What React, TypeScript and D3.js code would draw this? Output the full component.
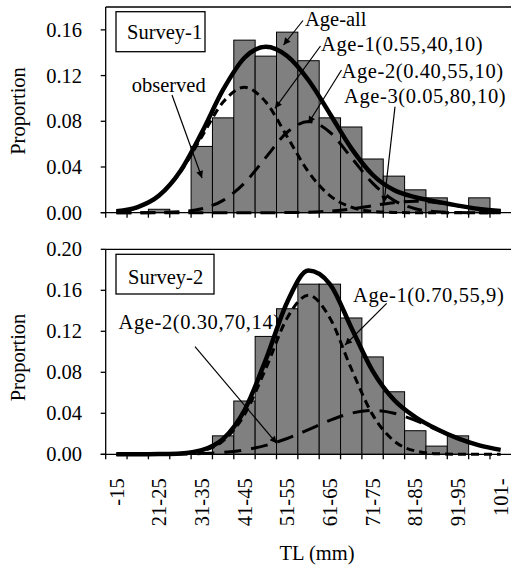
import React, { useEffect, useRef } from 'react';
import * as d3 from 'd3';

// length classes (5 mm bins)
const categories = [
  "-15", "16-20", "21-25", "26-30", "31-35", "36-40", "41-45", "46-50", "51-55", "56-60",
  "61-65", "66-70", "71-75", "76-80", "81-85", "86-90", "91-95", "96-100", "101-"
];

const yTicksSurvey1 = [0, 0.04, 0.08, 0.12, 0.16];
const yTicksSurvey2 = [0, 0.04, 0.08, 0.12, 0.16, 0.20];

// observed proportions
const survey1Observed = [0, 0, 0.003, 0, 0.058, 0.083, 0.151, 0.137, 0.158, 0.133, 0.083, 0.075, 0.047, 0.032, 0.020, 0.013, 0, 0.013, 0];
const survey2Observed = [0, 0, 0, 0, 0, 0.018, 0.052, 0.115, 0.142, 0.166, 0.166, 0.133, 0.095, 0.061, 0.023, 0.008, 0.018, 0, 0];

// fitted age groups, read at each class
const survey1Age1 = [0.0012, 0.0048, 0.0149, 0.0356, 0.0665, 0.0968, 0.1097, 0.0968, 0.0665, 0.0356, 0.0149, 0.0048, 0.0012, 0.0002, 0, 0, 0, 0, 0];
const survey1Age2 = [0, 0, 0.0002, 0.0009, 0.0035, 0.0108, 0.0259, 0.0484, 0.0704, 0.0798, 0.0704, 0.0484, 0.0259, 0.0108, 0.0035, 0.0009, 0.0002, 0, 0];
const survey1Age3 = [0, 0, 0, 0, 0, 0, 0, 0, 0.0001, 0.0004, 0.0014, 0.0032, 0.0061, 0.0088, 0.0100, 0.0088, 0.0061, 0.0032, 0.0014];
const survey1All = [0.0012, 0.0049, 0.0150, 0.0365, 0.0701, 0.1076, 0.1356, 0.1452, 0.1371, 0.1159, 0.0866, 0.0565, 0.0332, 0.0198, 0.0135, 0.0097, 0.0062, 0.0033, 0.0014];

const survey2Age1 = [0, 0, 0.0001, 0.0006, 0.0033, 0.0131, 0.0387, 0.0837, 0.1330, 0.1552, 0.1330, 0.0837, 0.0387, 0.0131, 0.0033, 0.0006, 0.0001, 0, 0];
const survey2Age2 = [0, 0, 0.0001, 0.0002, 0.0007, 0.0019, 0.0043, 0.0087, 0.0154, 0.0241, 0.0331, 0.0401, 0.0427, 0.0401, 0.0331, 0.0241, 0.0154, 0.0087, 0.0043];
const survey2All = [0, 0, 0.0002, 0.0008, 0.0040, 0.0150, 0.0430, 0.0924, 0.1484, 0.1792, 0.1661, 0.1238, 0.0814, 0.0532, 0.0364, 0.0247, 0.0155, 0.0087, 0.0043];

const FONT = '"Liberation Serif", "Times New Roman", serif';
const W = 511;
const H = 567;
const X0 = 105.7;
const X1 = 511.35;

interface Note { text: string; tx: number; ty: number; ax: number; ay: number; bx: number; by: number; }

interface Panel {
  title: string;
  box: [number, number, number, number];
  titleX: number;
  titleY: number;
  top: number;
  base: number;
  yMax: number;
  ticks: number[];
  observed: number[];
  parts: { values: number[]; dash: string }[];
  total: number[];
  notes: Note[];
  labelY: number;
  showX: boolean;
}

const panels: Panel[] = [
  {
    title: "Survey-1", box: [116, 11.7, 89, 40], titleX: 127, titleY: 38.7,
    top: 7, base: 212.7, yMax: 0.18, ticks: yTicksSurvey1,
    observed: survey1Observed,
    parts: [
      { values: survey1Age1, dash: "8,5" },
      { values: survey1Age2, dash: "15,9" },
      { values: survey1Age3, dash: "15,9" },
    ],
    total: survey1All,
    notes: [
      { text: "observed", tx: 131.7, ty: 91.5, ax: 172, ay: 95, bx: 202, by: 178 },
      { text: "Age-all", tx: 305, ty: 25.5, ax: 303, ay: 20.5, bx: 283.5, by: 45 },
      { text: "Age-1(0.55,40,10)", tx: 321, ty: 51, ax: 320.5, ay: 46, bx: 275, by: 108.3 },
      { text: "Age-2(0.40,55,10)", tx: 341.5, ty: 78.3, ax: 341.5, ay: 70, bx: 308.3, by: 123.3 },
      { text: "Age-3(0.05,80,10)", tx: 344, ty: 103, ax: 395, ay: 106.7, bx: 384, by: 203 },
    ],
    labelY: 111, showX: false,
  },
  {
    title: "Survey-2", box: [116, 254.3, 98, 39.7], titleX: 128, titleY: 283.7,
    top: 249.3, base: 454.3, yMax: 0.20, ticks: yTicksSurvey2,
    observed: survey2Observed,
    parts: [
      { values: survey2Age1, dash: "8,5" },
      { values: survey2Age2, dash: "17,10" },
    ],
    total: survey2All,
    notes: [
      { text: "Age-2(0.30,70,14)", tx: 118.5, ty: 328.5, ax: 195, ay: 346.7, bx: 276.7, by: 443.3 },
      { text: "Age-1(0.70,55,9)", tx: 353, ty: 302, ax: 386.7, ay: 303.3, bx: 345, by: 345 },
    ],
    labelY: 357.5, showX: true,
  },
];

const App: React.FC = () => {
  const svgRef = useRef<SVGSVGElement>(null);

  useEffect(() => {
    if (!svgRef.current) return;
    document.body.style.margin = "0";
    const svg = d3.select(svgRef.current);
    svg.selectAll("*").remove();

    svg.append("defs").append("marker")
      .attr("id", "arrow")
      .attr("viewBox", "0 0 10 10")
      .attr("refX", 10)
      .attr("refY", 5)
      .attr("markerWidth", 9)
      .attr("markerHeight", 7)
      .attr("markerUnits", "userSpaceOnUse")
      .attr("orient", "auto")
      .append("path")
      .attr("d", "M0,0 L10,5 L0,10 Z")
      .attr("fill", "#000");

    const x = d3.scaleBand<string>().domain(categories).range([X0, X1]).padding(0);
    const bw = x.bandwidth();
    const cx = (c: string) => (x(c) as number) + bw / 2;

    panels.forEach(p => {
      const y = d3.scaleLinear().domain([0, p.yMax]).range([p.base, p.top]);
      const g = svg.append("g");

      // bars
      g.selectAll("rect.bar")
        .data(p.observed.map((v, i) => ({ c: categories[i], v })).filter(d => d.v > 0))
        .enter().append("rect")
        .attr("x", d => x(d.c) as number)
        .attr("y", d => y(d.v))
        .attr("width", bw)
        .attr("height", d => y(0) - y(d.v))
        .attr("fill", "#808080")
        .attr("stroke", "#000")
        .attr("stroke-width", 1);

      // frame
      g.append("line").attr("x1", X0).attr("x2", X1).attr("y1", p.top).attr("y2", p.top)
        .attr("stroke", "#000").attr("stroke-width", 1.3);
      g.append("line").attr("x1", X0).attr("x2", X0).attr("y1", p.top).attr("y2", p.base)
        .attr("stroke", "#000").attr("stroke-width", 1.3);

      // y ticks
      p.ticks.forEach(t => {
        g.append("line").attr("x1", X0 - 5).attr("x2", X0).attr("y1", y(t)).attr("y2", y(t))
          .attr("stroke", "#000").attr("stroke-width", 1.3);
        g.append("text")
          .attr("x", 82)
          .attr("y", y(t))
          .attr("dy", "0.35em")
          .attr("text-anchor", "end")
          .style("font-family", FONT)
          .style("font-size", "20.5px")
          .text(t.toFixed(2));
      });

      // x ticks
      categories.forEach(c => {
        const xl = x(c) as number;
        g.append("line").attr("x1", xl).attr("x2", xl).attr("y1", p.base).attr("y2", p.base + 5)
          .attr("stroke", "#000").attr("stroke-width", 1.3);
      });

      const line = d3.line<number>()
        .x((_, i) => cx(categories[i]))
        .y(v => y(v))
        .curve(d3.curveMonotoneX);

      p.parts.forEach(part => {
        g.append("path")
          .attr("d", line(part.values) as string)
          .attr("fill", "none")
          .attr("stroke", "#000")
          .attr("stroke-width", 3)
          .attr("stroke-dasharray", part.dash);
      });

      g.append("path")
        .attr("d", line(p.total) as string)
        .attr("fill", "none")
        .attr("stroke", "#000")
        .attr("stroke-width", 4.5);

      // x axis line
      g.append("line").attr("x1", X0 - 5).attr("x2", X1).attr("y1", p.base).attr("y2", p.base)
        .attr("stroke", "#000").attr("stroke-width", 1.3);

      // title box
      g.append("rect")
        .attr("x", p.box[0]).attr("y", p.box[1]).attr("width", p.box[2]).attr("height", p.box[3])
        .attr("fill", "#fff").attr("stroke", "#000").attr("stroke-width", 1.3);
      g.append("text")
        .attr("x", p.titleX).attr("y", p.titleY)
        .style("font-family", FONT).style("font-size", "20.5px")
        .text(p.title);

      // annotations
      p.notes.forEach(n => {
        g.append("line")
          .attr("x1", n.ax).attr("y1", n.ay).attr("x2", n.bx).attr("y2", n.by)
          .attr("stroke", "#000").attr("stroke-width", 1.2)
          .attr("marker-end", "url(#arrow)");
        g.append("text")
          .attr("x", n.tx).attr("y", n.ty)
          .style("font-family", FONT).style("font-size", "20.5px")
          .style("letter-spacing", n.text.startsWith("Age-") && n.text.includes("(") ? "0.6px" : "0px")
          .text(n.text);
      });

      // y label
      g.append("text")
        .attr("transform", `translate(18,${p.labelY}) rotate(-90)`)
        .attr("dy", "0.35em")
        .attr("text-anchor", "middle")
        .style("font-family", FONT).style("font-size", "20.5px")
        .text("Proportion");

      if (p.showX) {
        categories.forEach((c, i) => {
          if (i % 2 !== 0) return;
          g.append("text")
            .attr("transform", `translate(${cx(c)},${p.base + 24}) rotate(-90)`)
            .attr("dy", "0.35em")
            .attr("text-anchor", "end")
            .style("font-family", FONT).style("font-size", "20.5px")
            .text(c);
        });
        g.append("text")
          .attr("x", 317).attr("y", 559.5)
          .attr("text-anchor", "middle")
          .style("font-family", FONT).style("font-size", "20.5px")
          .text("TL (mm)");
      }
    });
  }, []);

  return (
    <svg ref={svgRef} width={W} height={H}
      style={{ position: 'absolute', left: 0, top: 0, background: '#fff', display: 'block' }} />
  );
};

export default App;
